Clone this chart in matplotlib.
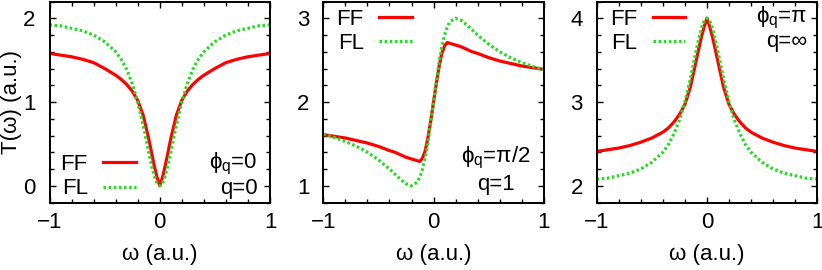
import numpy as np
import matplotlib
matplotlib.use("Agg")
import matplotlib.pyplot as plt
from matplotlib.ticker import MultipleLocator

plt.rcParams['font.family'] = ['Liberation Sans', 'DejaVu Sans']
plt.rcParams['mathtext.fontset'] = 'custom'
plt.rcParams['mathtext.rm'] = 'Liberation Sans'
plt.rcParams['font.size'] = 16

# omega grid
omega = [-1, -0.9, -0.8, -0.7, -0.6, -0.5, -0.4, -0.35, -0.3, -0.25, -0.2, -0.15, -0.125,
         -0.1, -0.075, -0.05, -0.025, 0, 0.025, 0.05, 0.075, 0.1, 0.125, 0.15, 0.2, 0.25,
         0.3, 0.35, 0.4, 0.5, 0.6, 0.7, 0.8, 0.9, 1]

# panel 1: phi_q = 0, q = 0
ff_1 = [1.58, 1.56, 1.54, 1.51, 1.47, 1.40, 1.32, 1.27, 1.21, 1.13, 1.02, 0.84, 0.70,
        0.56, 0.40, 0.24, 0.10, 0.0, 0.10, 0.24, 0.40, 0.56, 0.70, 0.84, 1.02, 1.13,
        1.21, 1.27, 1.32, 1.40, 1.47, 1.51, 1.54, 1.56, 1.58]
fl_1 = [1.92, 1.91, 1.88, 1.85, 1.80, 1.72, 1.60, 1.51, 1.39, 1.22, 1.00, 0.72, 0.56,
        0.40, 0.25, 0.12, 0.03, 0.0, 0.03, 0.12, 0.25, 0.40, 0.56, 0.72, 1.00, 1.22,
        1.39, 1.51, 1.60, 1.72, 1.80, 1.85, 1.88, 1.91, 1.92]

# panel 2: phi_q = pi/2, q = 1
ff_2 = [1.61, 1.59, 1.57, 1.54, 1.51, 1.47, 1.42, 1.40, 1.37, 1.34, 1.32, 1.30, 1.29,
        1.33, 1.42, 1.58, 1.78, 2.00, 2.22, 2.42, 2.58, 2.67, 2.71, 2.70, 2.68, 2.66,
        2.63, 2.60, 2.58, 2.53, 2.49, 2.46, 2.43, 2.41, 2.39]
fl_2 = [1.615, 1.576, 1.529, 1.472, 1.40, 1.31, 1.20, 1.138, 1.077, 1.024, 1.00, 1.04, 1.10,
        1.20, 1.342, 1.529, 1.754, 2.00, 2.246, 2.471, 2.658, 2.80, 2.90, 2.96, 3.00, 2.976,
        2.923, 2.862, 2.80, 2.69, 2.60, 2.528, 2.471, 2.424, 2.385]

# panel 3: phi_q = pi, q = inf
ff_3 = [2.41, 2.43, 2.45, 2.48, 2.52, 2.57, 2.64, 2.69, 2.76, 2.85, 2.97, 3.18, 3.33,
        3.48, 3.63, 3.78, 3.90, 4.00, 3.90, 3.78, 3.63, 3.48, 3.33, 3.18, 2.97, 2.85,
        2.76, 2.69, 2.64, 2.57, 2.52, 2.48, 2.45, 2.43, 2.41]
fl_3 = [2.08, 2.09, 2.12, 2.15, 2.20, 2.28, 2.40, 2.49, 2.62, 2.78, 3.00, 3.28, 3.44,
        3.60, 3.75, 3.88, 3.97, 4.00, 3.97, 3.88, 3.75, 3.60, 3.44, 3.28, 3.00, 2.78,
        2.62, 2.49, 2.40, 2.28, 2.20, 2.15, 2.12, 2.09, 2.08]

ylims = [(-0.2, 2.2), (0.8, 3.2), (1.8, 4.2)]
labels_phi = ["ϕ$_\\mathregular{q}$=0", "ϕ$_\\mathregular{q}$=π/2", "ϕ$_\\mathregular{q}$=π"]
labels_q = ["q=0", "q=1", "q=∞"]

red = "#ff0000"
green = "#22dd22"

fig = plt.figure(figsize=(8.22, 2.70), dpi=100)
lefts = [49.5 / 822, 323.3 / 822, 596.7 / 822]
w = 220.5 / 822
b = (270 - 202.5) / 270
h = (202.5 - 1.5) / 270

leg_kw = dict(markerfirst=False, frameon=False, handlelength=1.45, handletextpad=0.7,
              labelspacing=0.15, borderaxespad=0, borderpad=0)

data = [(ff_1, fl_1), (ff_2, fl_2), (ff_3, fl_3)]
for i in range(3):
	ax = fig.add_axes([lefts[i], b, w, h])
	ax.plot(omega, data[i][0], color=red, lw=2.3, label="FF")
	ax.plot(omega, data[i][1], color=green, lw=2.3, label="FL", linestyle=(0, (0.8, 0.8)))
	ax.set_xlim(-1, 1)
	ax.set_ylim(*ylims[i])
	ax.xaxis.set_major_locator(MultipleLocator(1))
	ax.xaxis.set_minor_locator(MultipleLocator(0.2))
	ax.yaxis.set_major_locator(MultipleLocator(1))
	ax.yaxis.set_minor_locator(MultipleLocator(0.2))
	ax.tick_params(which="both", direction="in", top=True, right=True, width=1.0)
	ax.tick_params(which="major", length=4.5)
	ax.tick_params(which="minor", length=3)
	ax.tick_params(axis="y", pad=10)
	ax.tick_params(axis="x", pad=7)
	for s in ax.spines.values():
		s.set_linewidth(1.4)
	ax.set_xlabel("ω (a.u.)")
	ax.xaxis.set_label_coords(0.5, -0.205)

	# legend, text first then sample (gnuplot style)
	if i == 0:
		ax.legend(loc="lower left", bbox_to_anchor=(0.05, 0.015), **leg_kw)
		ax.text(0.944, 0.19, labels_phi[i], transform=ax.transAxes, ha="right", va="center")
		ax.text(0.944, 0.07, labels_q[i], transform=ax.transAxes, ha="right", va="center")
		ax.set_ylabel("T(ω) (a.u.)")
		ax.yaxis.set_label_coords(-0.125, 0.5)
	else:
		ax.legend(loc="upper left", bbox_to_anchor=(0.06, 0.965), **leg_kw)
		if i == 1:
			ax.text(0.784, 0.22, labels_phi[i], transform=ax.transAxes, ha="center", va="center")
			ax.text(0.784, 0.09, labels_q[i], transform=ax.transAxes, ha="center", va="center")
		else:
			ax.text(0.956, 0.92, labels_phi[i], transform=ax.transAxes, ha="right", va="center")
			ax.text(0.956, 0.80, labels_q[i], transform=ax.transAxes, ha="right", va="center")

plt.savefig("out.png", dpi=100)
